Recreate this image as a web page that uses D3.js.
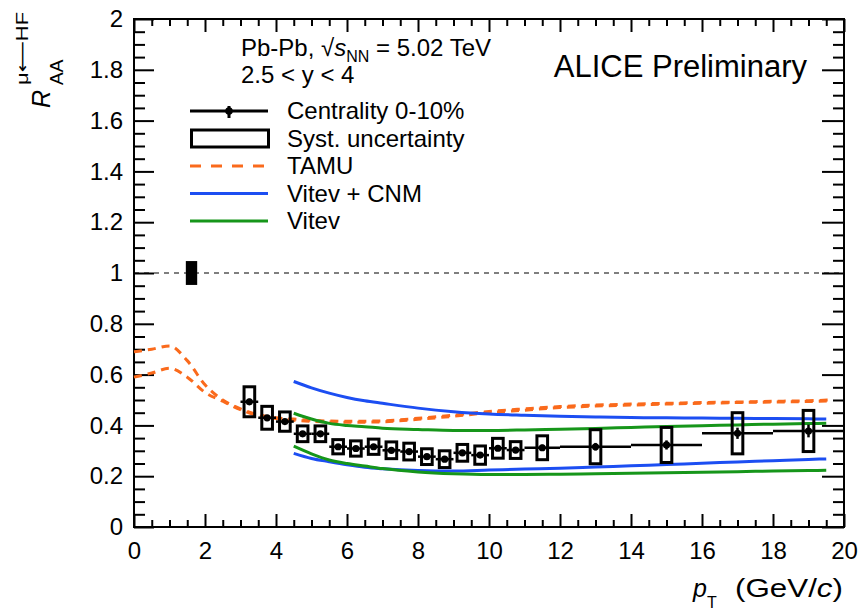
<!DOCTYPE html>
<html><head><meta charset="utf-8">
<script src="https://cdn.jsdelivr.net/npm/d3@7"></script>
<style>
body{margin:0;background:#fff}
svg{display:block}
text{font-family:"Liberation Sans",Arial,Helvetica,sans-serif;fill:#000}
</style>
</head><body>
<svg id="c" width="861" height="612"></svg>
<script>
// ---------- data ----------
const ptCenters = [3.25,3.75,4.25,4.75,5.25,5.75,6.25,6.75,7.25,7.75,8.25,8.75,9.25,9.75,10.25,10.75,11.5,13,15,17,19];
const ptHalfWidth = [0.25,0.25,0.25,0.25,0.25,0.25,0.25,0.25,0.25,0.25,0.25,0.25,0.25,0.25,0.25,0.25,0.5,1,1,1,1];
const raaValues = [0.493,0.430,0.415,0.367,0.367,0.316,0.309,0.316,0.302,0.297,0.277,0.267,0.292,0.283,0.310,0.303,0.312,0.316,0.323,0.369,0.378];
const raaStat = [0.012,0.010,0.008,0.007,0.007,0.007,0.007,0.007,0.008,0.008,0.008,0.008,0.009,0.009,0.010,0.010,0.012,0.015,0.018,0.022,0.025];
const raaSyst = [0.059,0.045,0.038,0.031,0.031,0.028,0.030,0.030,0.033,0.033,0.031,0.033,0.033,0.036,0.039,0.033,0.047,0.067,0.069,0.081,0.081];
const systBoxHalfWidth = 0.15;
const normUnc = {pt: 1.62, halfWidth: 0.16, value: 1.0, err: 0.047};

const tamuPt   = [0,0.5,1,1.5,2,2.5,3,3.5,4,4.5,5,6,7,8,9,10,11,12,13,14,15,16,17,18,19,19.6];
const tamuHigh = [0.690,0.700,0.713,0.655,0.560,0.500,0.465,0.442,0.430,0.425,0.420,0.416,0.418,0.428,0.440,0.455,0.465,0.474,0.480,0.484,0.487,0.490,0.492,0.495,0.497,0.500];
const tamuLow  = [0.590,0.606,0.625,0.590,0.530,0.495,0.462,0.438,0.427,0.420,0.416,0.412,0.414,0.424,0.436,0.450,0.460,0.470,0.476,0.480,0.484,0.487,0.490,0.492,0.494,0.497];

const vitevPt      = [4.5,5,5.5,6,6.5,7,8,9,10,11,12,13,14,15,16,17,18,19,19.5];
const vitevCnmHigh = [0.573,0.548,0.527,0.510,0.497,0.487,0.468,0.454,0.445,0.440,0.436,0.433,0.431,0.430,0.429,0.428,0.427,0.426,0.425];
const vitevCnmLow  = [0.290,0.270,0.257,0.245,0.235,0.229,0.222,0.220,0.224,0.228,0.231,0.236,0.241,0.246,0.251,0.256,0.261,0.266,0.268];
const vitevHigh    = [0.448,0.425,0.408,0.400,0.395,0.389,0.384,0.380,0.380,0.382,0.385,0.388,0.392,0.396,0.399,0.402,0.405,0.407,0.408];
const vitevLow     = [0.318,0.288,0.264,0.250,0.240,0.230,0.217,0.210,0.207,0.207,0.208,0.210,0.212,0.214,0.216,0.218,0.220,0.222,0.223];

const xTickValues = [0,2,4,6,8,10,12,14,16,18,20];
const xTickLabels = ["0","2","4","6","8","10","12","14","16","18","20"];
const yTickValues = [0,0.2,0.4,0.6,0.8,1,1.2,1.4,1.6,1.8,2];
const yTickLabels = ["0","0.2","0.4","0.6","0.8","1","1.2","1.4","1.6","1.8","2"];

const legendLabels = ["Centrality 0-10%","Syst. uncertainty","TAMU","Vitev + CNM","Vitev"];
const colTamu = "#fa6a1c", colCnm = "#1c4ef2", colVitev = "#16961a";

// ---------- setup ----------
const svg = d3.select("#c");
const x = d3.scaleLinear().domain([0,20]).range([134,844]);
const y = d3.scaleLinear().domain([0,2]).range([527,19]);

const xMinor = d3.range(0,20.0001,0.5).filter(v => Math.abs(v/2 - Math.round(v/2)) > 1e-6);
const yMinor = d3.range(0,2.0001,0.05).filter(v => Math.abs(v/0.2 - Math.round(v/0.2)) > 1e-6);

function styleAxis(g, fs){
  g.select(".domain").remove();
  g.selectAll("line").attr("stroke","#000").attr("stroke-width",2);
  g.selectAll("text").attr("font-size",fs).attr("fill","#000")
    .style("font-family",'"Liberation Sans",Arial,sans-serif');
}
const xLab = d => xTickLabels[xTickValues.indexOf(d)];
const yLab = d => yTickLabels[yTickValues.findIndex(v => Math.abs(v-d)<1e-9)];

// bottom
svg.append("g").attr("transform","translate(0,527)")
  .call(d3.axisBottom(x).tickValues(xTickValues).tickSizeInner(-13).tickSizeOuter(0).tickPadding(15).tickFormat(xLab))
  .call(g=>styleAxis(g,24));
svg.append("g").attr("transform","translate(0,527)")
  .call(d3.axisBottom(x).tickValues(xMinor).tickSizeInner(-7).tickSizeOuter(0).tickFormat(""))
  .call(g=>styleAxis(g,0));
// top
svg.append("g").attr("transform","translate(0,19)")
  .call(d3.axisTop(x).tickValues(xTickValues).tickSizeInner(-13).tickSizeOuter(0).tickFormat(""))
  .call(g=>styleAxis(g,0));
svg.append("g").attr("transform","translate(0,19)")
  .call(d3.axisTop(x).tickValues(xMinor).tickSizeInner(-7).tickSizeOuter(0).tickFormat(""))
  .call(g=>styleAxis(g,0));
// left
svg.append("g").attr("transform","translate(134,0)")
  .call(d3.axisLeft(y).tickValues(yTickValues).tickSizeInner(-20).tickSizeOuter(0).tickPadding(11).tickFormat(yLab))
  .call(g=>styleAxis(g,24));
svg.append("g").attr("transform","translate(134,0)")
  .call(d3.axisLeft(y).tickValues(yMinor).tickSizeInner(-11).tickSizeOuter(0).tickFormat(""))
  .call(g=>styleAxis(g,0));
// right
svg.append("g").attr("transform","translate(844,0)")
  .call(d3.axisRight(y).tickValues(yTickValues).tickSizeInner(-22).tickSizeOuter(0).tickFormat(""))
  .call(g=>styleAxis(g,0));
svg.append("g").attr("transform","translate(844,0)")
  .call(d3.axisRight(y).tickValues(yMinor).tickSizeInner(-11).tickSizeOuter(0).tickFormat(""))
  .call(g=>styleAxis(g,0));

// frame
svg.append("rect").attr("x",x(0)).attr("y",y(2)).attr("width",x(20)-x(0)).attr("height",y(0)-y(2))
  .attr("fill","none").attr("stroke","#000").attr("stroke-width",2);

// unity line
svg.append("line").attr("x1",x(0)).attr("x2",x(20)).attr("y1",y(1)).attr("y2",y(1))
  .attr("stroke","#000").attr("stroke-width",1.2).attr("stroke-dasharray","5,5");

// normalization box
svg.append("rect").attr("x",x(normUnc.pt-normUnc.halfWidth)).attr("width",x(normUnc.pt+normUnc.halfWidth)-x(normUnc.pt-normUnc.halfWidth))
  .attr("y",y(normUnc.value+normUnc.err)).attr("height",y(normUnc.value-normUnc.err)-y(normUnc.value+normUnc.err))
  .attr("fill","#000");

// ---------- theory curves ----------
function curve(xs, ys, color, dash){
  const line = d3.line().x((d,i)=>x(xs[i])).y(d=>y(d)).curve(d3.curveMonotoneX);
  svg.append("path").attr("d",line(ys)).attr("fill","none").attr("stroke",color)
    .attr("stroke-width",3).attr("stroke-dasharray",dash||null);
}
curve(tamuPt,tamuHigh,colTamu,"8,6");
curve(tamuPt,tamuLow,colTamu,"8,6");
curve(vitevPt,vitevCnmHigh,colCnm);
curve(vitevPt,vitevCnmLow,colCnm);
curve(vitevPt,vitevHigh,colVitev);
curve(vitevPt,vitevLow,colVitev);

// ---------- data ----------
const data = ptCenters.map((p,i)=>({p, w:ptHalfWidth[i], v:raaValues[i], st:raaStat[i], sy:raaSyst[i]}));
const dg = svg.append("g");
dg.selectAll("line.h").data(data).join("line")
  .attr("x1",d=>x(d.p-d.w)).attr("x2",d=>x(d.p+d.w)).attr("y1",d=>y(d.v)).attr("y2",d=>y(d.v))
  .attr("stroke","#000").attr("stroke-width",2.5);
dg.selectAll("line.v").data(data).join("line")
  .attr("x1",d=>x(d.p)).attr("x2",d=>x(d.p)).attr("y1",d=>y(d.v-d.st)).attr("y2",d=>y(d.v+d.st))
  .attr("stroke","#000").attr("stroke-width",2.5);
dg.selectAll("rect").data(data).join("rect")
  .attr("x",d=>x(d.p-systBoxHalfWidth)).attr("width",d=>x(d.p+systBoxHalfWidth)-x(d.p-systBoxHalfWidth))
  .attr("y",d=>y(d.v+d.sy)).attr("height",d=>y(d.v-d.sy)-y(d.v+d.sy))
  .attr("fill","none").attr("stroke","#000").attr("stroke-width",3);
dg.selectAll("circle").data(data).join("circle")
  .attr("cx",d=>x(d.p)).attr("cy",d=>y(d.v)).attr("r",3.6).attr("fill","#000");

// ---------- texts ----------
svg.append("text").attr("x",807).attr("y",77).attr("text-anchor","end").attr("font-size",31).text("ALICE Preliminary");

const t1 = svg.append("text").attr("x",241).attr("y",56).attr("font-size",24);
t1.append("tspan").text("Pb-Pb, \u221A");
t1.append("tspan").attr("font-style","italic").text("s");
t1.append("tspan").attr("font-size",16).attr("dy",6).text("NN");
t1.append("tspan").attr("dy",-6).text(" = 5.02 TeV");
svg.append("text").attr("x",241).attr("y",83).attr("font-size",24).text("2.5 < y < 4");

// legend
const legBase = [119,146.5,174,201.5,229];
const lx0 = 190, lx1 = 268;
legendLabels.forEach((lab,i)=>{
  svg.append("text").attr("x",287).attr("y",legBase[i]).attr("font-size",24).text(lab);
});
const ly = legBase.map(b=>b-8);
svg.append("line").attr("x1",lx0).attr("x2",lx1).attr("y1",ly[0]).attr("y2",ly[0]).attr("stroke","#000").attr("stroke-width",3);
svg.append("line").attr("x1",(lx0+lx1)/2).attr("x2",(lx0+lx1)/2).attr("y1",ly[0]-5).attr("y2",ly[0]+7).attr("stroke","#000").attr("stroke-width",3);
svg.append("circle").attr("cx",(lx0+lx1)/2).attr("cy",ly[0]).attr("r",3.8).attr("fill","#000");
svg.append("rect").attr("x",lx0+1.5).attr("y",ly[1]-8.5).attr("width",lx1-lx0-1).attr("height",17)
  .attr("fill","none").attr("stroke","#000").attr("stroke-width",3);
svg.append("line").attr("x1",lx0).attr("x2",lx1).attr("y1",ly[2]).attr("y2",ly[2]).attr("stroke",colTamu).attr("stroke-width",3).attr("stroke-dasharray","11,10");
svg.append("line").attr("x1",lx0).attr("x2",lx1).attr("y1",ly[3]).attr("y2",ly[3]).attr("stroke",colCnm).attr("stroke-width",3);
svg.append("line").attr("x1",lx0).attr("x2",lx1).attr("y1",ly[4]).attr("y2",ly[4]).attr("stroke",colVitev).attr("stroke-width",3);

// y-axis title
svg.append("text").attr("transform","translate(50,108) rotate(-90)").attr("font-size",25).attr("font-style","italic").text("R");
const sup = svg.append("text").attr("transform","translate(28,85) rotate(-90)").attr("font-size",17)
  .attr("textLength",73).attr("lengthAdjust","spacingAndGlyphs");
sup.append("tspan").text("\u03BC");
sup.append("tspan").style("font-family",'"DejaVu Sans",sans-serif').text("\u27F5");
sup.append("tspan").text("HF");
svg.append("text").attr("transform","translate(63,85) rotate(-90)").attr("font-size",19).text("AA");

// x-axis title
svg.append("text").attr("x",693).attr("y",597).attr("font-size",25).attr("font-style","italic").text("p");
svg.append("text").attr("x",707).attr("y",608).attr("font-size",16).text("T");
const xt = svg.append("text").attr("x",735).attr("y",597).attr("font-size",25)
  .attr("textLength",108).attr("lengthAdjust","spacingAndGlyphs");
xt.append("tspan").text("(GeV/");
xt.append("tspan").attr("font-style","italic").text("c");
xt.append("tspan").text(")");
</script>
</body></html>
